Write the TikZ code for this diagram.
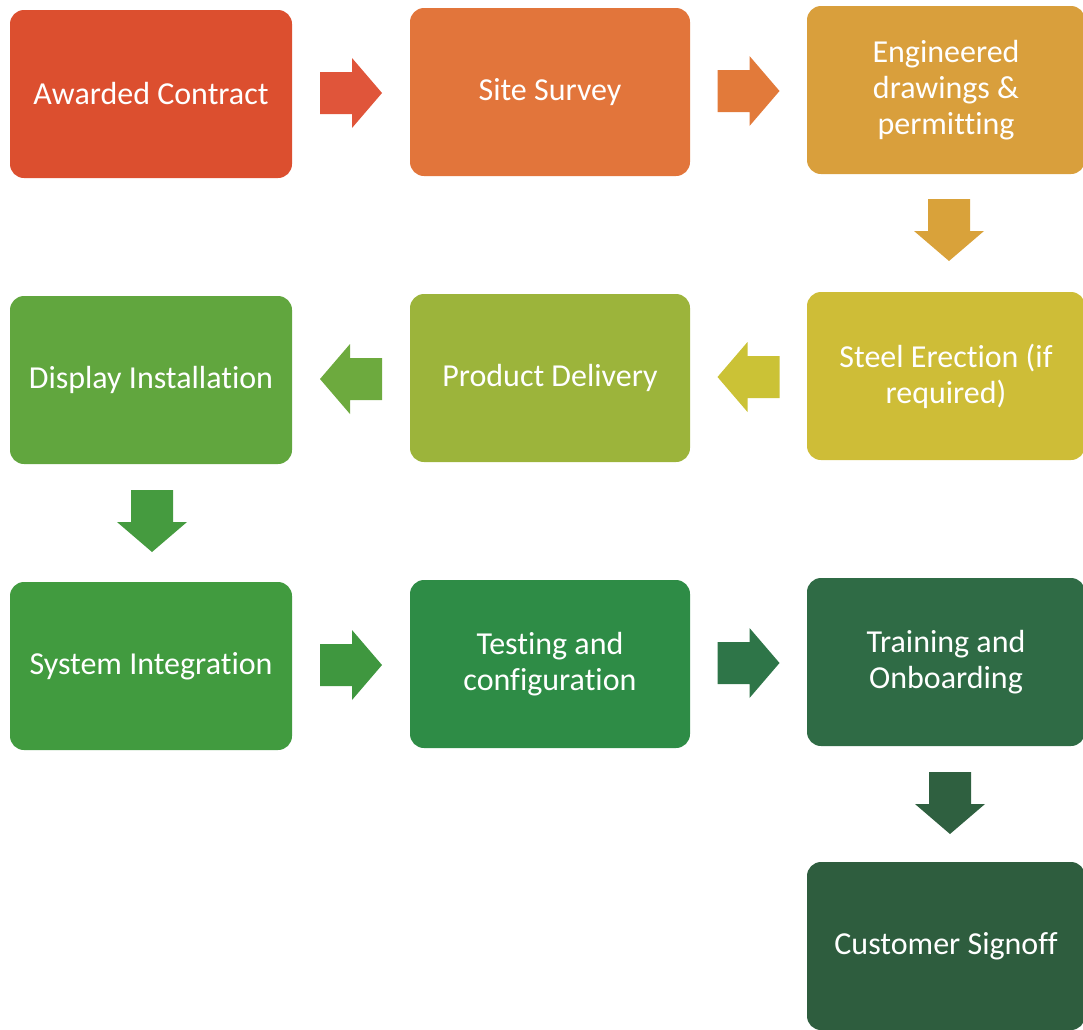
\documentclass[tikz,border=0pt]{standalone}
\usepackage{fontspec}
\setmainfont[Ligatures={NoCommon}]{Carlito}
\usetikzlibrary{calc}
\definecolor{c1}{HTML}{DC4F2F}
\definecolor{c2}{HTML}{E2753B}
\definecolor{c3}{HTML}{D99F3C}
\definecolor{c4}{HTML}{CEBD37}
\definecolor{c5}{HTML}{9CB43B}
\definecolor{c6}{HTML}{61A63E}
\definecolor{c7}{HTML}{419B3F}
\definecolor{c8}{HTML}{2E8C46}
\definecolor{c9}{HTML}{2F6B45}
\definecolor{c10}{HTML}{2E5D3E}
\definecolor{a1}{HTML}{E0553A}
\definecolor{a2}{HTML}{E27A3A}
\definecolor{a3}{HTML}{D9A23A}
\definecolor{a4}{HTML}{CBC236}
\definecolor{a5}{HTML}{6DAA3E}
\definecolor{a6}{HTML}{459B3F}
\definecolor{a7}{HTML}{3F973F}
\definecolor{a8}{HTML}{2E7548}
\definecolor{a9}{HTML}{2F6040}
\begin{document}
\begin{tikzpicture}[x=1pt,y=-1pt,
  box/.style={rectangle, rounded corners=14pt, minimum width=282pt, minimum height=168pt,
    inner sep=0pt, text=white, align=center, font=\fontsize{32}{36}\selectfont},
  pics/barrow/.style={code={
    \fill[pic actions] (-31,-21) -- (1,-21) -- (1,-35) -- (31,0) -- (1,35) -- (1,21) -- (-31,21) -- cycle;}}]
\useasboundingbox (0,0) rectangle (1083,1029);
% row 1
\node[box, fill=c1] (b1) at (151,94) {Awarded Contract};
\node[box, fill=c2, minimum width=280pt] (b2) at (550,92) {Site Survey};
\node[box, fill=c3, minimum width=278pt] (b3) at (946,90) {Engineered\\drawings \&\\permitting};
% row 2
\node[box, fill=c6] (b6) at (151,380) {Display Installation};
\node[box, fill=c5, minimum width=280pt] (b5) at (550,378) {Product Delivery};
\node[box, fill=c4, minimum width=278pt] (b4) at (946,376) {Steel Erection (if\\required)};
% row 3
\node[box, fill=c7] (b7) at (151,666) {System Integration};
\node[box, fill=c8, minimum width=280pt] (b8) at (550,664) {Testing and\\configuration};
\node[box, fill=c9, minimum width=278pt] (b9) at (946,662) {Training and\\Onboarding};
% row 4
\node[box, fill=c10, minimum width=278pt] (b10) at (946,946) {Customer Signoff};
% arrows
\pic[fill=a1] at ($(b1.east)!0.5!(b2.west)$) {barrow};
\pic[fill=a2] at ($(b2.east)!0.5!(b3.west)$) {barrow};
\pic[fill=a3, rotate=-90] at ($(b3.south)!0.5!(b4.north)+(3,-3)$) {barrow};
\pic[fill=a4, rotate=180] at ($(b4.west)!0.5!(b5.east)$) {barrow};
\pic[fill=a5, rotate=180] at ($(b5.west)!0.5!(b6.east)$) {barrow};
\pic[fill=a6, rotate=-90] at ($(b6.south)!0.5!(b7.north)+(1,-2)$) {barrow};
\pic[fill=a7] at ($(b7.east)!0.5!(b8.west)$) {barrow};
\pic[fill=a8] at ($(b8.east)!0.5!(b9.west)$) {barrow};
\pic[fill=a9, rotate=-90] at ($(b9.south)!0.5!(b10.north)+(4,-1)$) {barrow};
\end{tikzpicture}
\end{document}
